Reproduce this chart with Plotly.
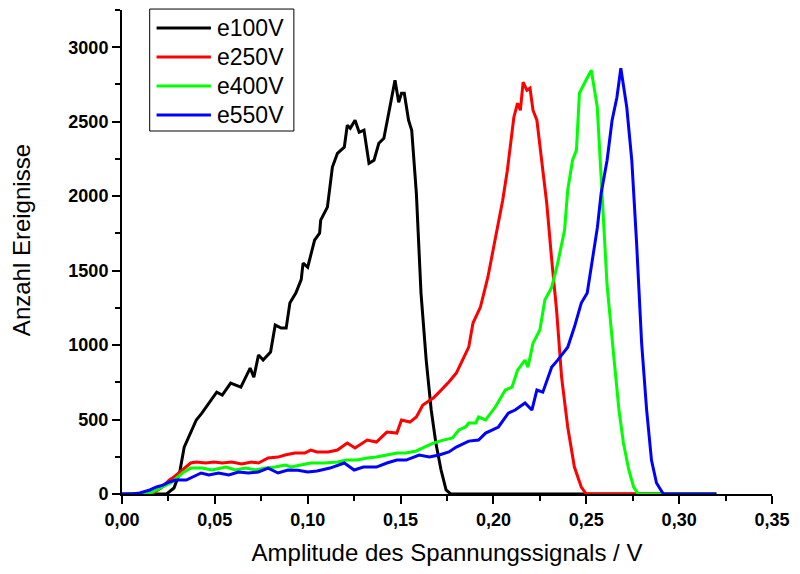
import plotly.graph_objects as go

# ---- data ----
x_e100 = [0, 0.020, 0.024, 0.028, 0.031, 0.0335, 0.037, 0.040, 0.043, 0.046, 0.051, 0.054, 0.0585, 0.064,
          0.069, 0.071, 0.0735, 0.076, 0.080, 0.0825, 0.0857, 0.0884, 0.0904, 0.0936, 0.0947, 0.0965, 0.0975,
          0.100, 0.1037, 0.1064, 0.107, 0.1106, 0.1133, 0.116, 0.1197, 0.1213, 0.1229, 0.1255, 0.1277, 0.1303,
          0.133, 0.1357, 0.1383, 0.141, 0.1436, 0.147, 0.149, 0.1505, 0.152, 0.1543, 0.156, 0.1585, 0.161,
          0.1638, 0.1665, 0.169, 0.1718, 0.1745, 0.177, 0.32]
y_e100 = [0, 0, 0, 40, 141, 315, 409, 497, 543, 597, 684, 664, 745, 718,
          845, 785, 933, 900, 953, 1134, 1114, 1114, 1282, 1349, 1389, 1440, 1550,
          1523, 1705, 1752, 1839, 1926, 2195, 2288, 2329, 2476, 2456, 2510, 2429, 2443,
          2221, 2241, 2355, 2389, 2557, 2778, 2631, 2691, 2691, 2510, 2443, 2020, 1349,
          899, 564, 342, 161, 27, 0, 0]

x_e250 = [0, 0.014, 0.0165, 0.021, 0.0255, 0.028, 0.0325, 0.037, 0.040, 0.045, 0.0495, 0.054, 0.059, 0.0645,
          0.0697, 0.0735, 0.0787, 0.084, 0.0878, 0.093, 0.0984, 0.1016, 0.105, 0.111, 0.116, 0.1213, 0.1255,
          0.132, 0.137, 0.1426, 0.148, 0.1505, 0.155, 0.1585, 0.162, 0.1676, 0.1708, 0.176, 0.180, 0.1835,
          0.1867, 0.189, 0.193, 0.197, 0.201, 0.205, 0.2075, 0.211, 0.213, 0.2145, 0.216, 0.218, 0.2197,
          0.2213, 0.2234, 0.226, 0.2287, 0.2314, 0.234, 0.2367, 0.240, 0.2436, 0.2473, 0.250, 0.32]
y_e250 = [0, 0, 5, 40, 94, 114, 161, 208, 215, 208, 215, 208, 215, 201,
          215, 208, 242, 248, 262, 275, 275, 295, 282, 282, 295, 342, 309,
          362, 349, 416, 409, 497, 483, 517, 597, 644, 684, 752, 812, 899,
          986, 1148, 1255, 1456, 1705, 1973, 2174, 2530, 2624, 2577, 2765, 2711, 2725,
          2577, 2510, 2241, 1953, 1570, 1235, 785, 450, 181, 47, 0, 0]

x_e400 = [0, 0.012, 0.0165, 0.022, 0.027, 0.0325, 0.037, 0.043, 0.0484, 0.056, 0.061, 0.0665, 0.072, 0.077,
          0.0825, 0.0878, 0.091, 0.0963, 0.1016, 0.109, 0.116, 0.121, 0.1266, 0.132, 0.137, 0.1426, 0.148,
          0.153, 0.1585, 0.162, 0.1676, 0.173, 0.178, 0.1814, 0.185, 0.1867, 0.1905, 0.192, 0.1958, 0.201,
          0.2064, 0.210, 0.213, 0.217, 0.2186, 0.2213, 0.225, 0.2277, 0.2314, 0.2346, 0.2383, 0.240, 0.2426,
          0.2447, 0.2463, 0.249, 0.2505, 0.2527, 0.2559, 0.2585, 0.2612, 0.265, 0.2676, 0.270, 0.2729,
          0.2755, 0.278, 0.32]
y_e400 = [0, 0, 13, 47, 81, 141, 174, 174, 161, 181, 161, 174, 161, 174,
          181, 195, 181, 195, 208, 208, 215, 228, 228, 242, 248, 262, 275,
          275, 289, 309, 342, 362, 376, 430, 450, 477, 477, 517, 497, 584,
          698, 718, 832, 899, 852, 1013, 1101, 1302, 1389, 1550, 1772, 2040, 2241,
          2309, 2691, 2758, 2798, 2845, 2600, 2030, 1400, 899, 564, 342, 161,
          47, 0, 0]

x_e550 = [0, 0.005, 0.0096, 0.015, 0.0186, 0.022, 0.0255, 0.029, 0.0346, 0.0378, 0.0426, 0.0468, 0.052,
          0.0575, 0.0628, 0.068, 0.0734, 0.0787, 0.084, 0.0894, 0.0947, 0.100, 0.105, 0.112, 0.1197, 0.125,
          0.130, 0.137, 0.1426, 0.148, 0.153, 0.160, 0.1655, 0.1708, 0.176, 0.180, 0.1867, 0.192, 0.1958,
          0.2027, 0.208, 0.2117, 0.217, 0.2207, 0.2234, 0.2266, 0.2314, 0.2346, 0.240, 0.2436, 0.2473,
          0.2505, 0.2543, 0.256, 0.258, 0.2612, 0.2639, 0.2665, 0.2686, 0.2718, 0.2745, 0.2771, 0.2798,
          0.2825, 0.2851, 0.2878, 0.2915, 0.32]
y_e550 = [0, 0, 7, 27, 47, 60, 81, 94, 94, 114, 141, 128, 141,
          128, 148, 141, 148, 174, 141, 161, 160, 148, 155, 174, 208, 161,
          181, 181, 208, 228, 228, 262, 248, 262, 282, 315, 355, 362, 409,
          450, 543, 564, 611, 564, 698, 684, 852, 899, 986, 1121, 1282,
          1349, 1640, 1792, 2020, 2241, 2510, 2664, 2859, 2597, 2241, 1684, 1013,
          564, 228, 74, 0, 0]

series = [
    ("e100V", x_e100, y_e100, "#000000"),
    ("e250V", x_e250, y_e250, "#FF0000"),
    ("e400V", x_e400, y_e400, "#00FF00"),
    ("e550V", x_e550, y_e550, "#0000FF"),
]

x_ticks = [0, 0.05, 0.10, 0.15, 0.20, 0.25, 0.30, 0.35]
y_ticks = [0, 500, 1000, 1500, 2000, 2500, 3000]
x_title = "Amplitude des Spannungssignals / V"
y_title = "Anzahl Ereignisse"

FONT = "Liberation Sans, Arial, sans-serif"

fig = go.Figure()
for name, xs, ys, col in series:
    fig.add_trace(go.Scatter(x=xs, y=ys, name=name, mode="lines", showlegend=False,
                             line=dict(color=col, width=3), cliponaxis=False))

# framed legend in the upper left (paper coordinates = plot area)
leg_x0, leg_x1 = 0.0426, 0.2644
leg_top, leg_bottom = 1.002, 0.750
row_h = 0.0599
first_row = 0.9628
shapes = [dict(type="rect", xref="paper", yref="paper", x0=leg_x0, x1=leg_x1,
               y0=leg_bottom, y1=leg_top, line=dict(color="black", width=1),
               fillcolor="white", layer="above")]
annotations = []
for i, (name, _, _, col) in enumerate(series):
    yy = first_row - i * row_h
    shapes.append(dict(type="line", xref="paper", yref="paper", x0=0.0532, x1=0.1368,
                       y0=yy, y1=yy, line=dict(color=col, width=3), layer="above"))
    annotations.append(dict(xref="paper", yref="paper", x=0.1430, y=yy, text=name,
                            showarrow=False, xanchor="left", yanchor="middle",
                            font=dict(size=23, family=FONT, color="black")))

# y-axis title placed like the reference (slightly above the axis centre)
annotations.append(dict(xref="paper", yref="paper", x=-0.1535, y=0.525, text=y_title,
                        textangle=-90, showarrow=False, xanchor="center", yanchor="middle",
                        font=dict(size=24, family=FONT, color="black")))

fig.update_layout(
    width=800, height=574,
    margin=dict(l=122, r=20, t=10, b=80),
    paper_bgcolor="white", plot_bgcolor="white",
    separators=",.",
    font=dict(family=FONT, color="black"),
    showlegend=False,
    shapes=shapes, annotations=annotations,
    xaxis=dict(range=[0, 0.35], tickvals=x_ticks, tickformat=".2f",
               showline=True, linewidth=2, linecolor="black", showgrid=False, zeroline=False,
               ticks="outside", ticklen=8, tickwidth=2, tickcolor="black",
               minor=dict(dtick=0.025, ticks="outside", ticklen=5, tickwidth=2, tickcolor="black", showgrid=False),
               tickfont=dict(size=18, family=FONT, weight="bold"),
               title=dict(text=x_title, font=dict(size=24, family=FONT), standoff=16)),
    yaxis=dict(range=[0, 3250], tickvals=y_ticks, tickformat="d",
               showline=True, linewidth=2, linecolor="black", showgrid=False, zeroline=False,
               ticks="outside", ticklen=8, tickwidth=2, tickcolor="black",
               minor=dict(dtick=250, ticks="outside", ticklen=5, tickwidth=2, tickcolor="black", showgrid=False),
               tickfont=dict(size=18, family=FONT, weight="bold")),
)

fig.write_html("out.html")
